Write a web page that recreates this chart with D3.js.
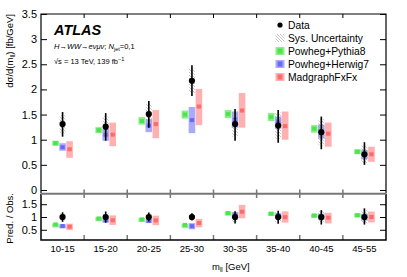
<!DOCTYPE html>
<html>
<head>
<meta charset="utf-8">
<script src="https://cdn.jsdelivr.net/npm/d3@7"></script>
<style>
  body { margin: 0; background: #fff; }
  svg { display: block; font-family: "Liberation Sans", Arial, sans-serif; }
</style>
</head>
<body>
<svg id="chart" width="407" height="277"></svg>
<script>
const bins = ['10-15', '15-20', '20-25', '25-30', '30-35', '35-40', '40-45', '45-55']

// measured cross section and uncertainties
const dataVal = [1.31, 1.26, 1.51, 2.17, 1.31, 1.28, 1.15, 0.71]
const dataErrUp = [0.24, 0.27, 0.26, 0.31, 0.30, 0.31, 0.31, 0.24]
const dataErrDn = [0.25, 0.28, 0.27, 0.30, 0.33, 0.34, 0.34, 0.21]
const dataSys = [0.18, 0.20, 0.20, 0.24, 0.25, 0.26, 0.26, 0.18]

// predictions: central value, band low, band high
const pythiaVal = [0.93, 1.19, 1.37, 1.50, 1.51, 1.45, 1.22, 0.76]
const pythiaLo = [0.88, 1.13, 1.30, 1.42, 1.43, 1.37, 1.14, 0.71]
const pythiaHi = [0.98, 1.25, 1.45, 1.58, 1.59, 1.53, 1.29, 0.81]

const herwigVal = [0.85, 1.10, 1.28, 1.39, 1.40, 1.36, 1.14, 0.71]
const herwigLo = [0.78, 0.98, 1.15, 1.13, 1.24, 1.22, 1.02, 0.61]
const herwigHi = [0.93, 1.22, 1.41, 1.65, 1.56, 1.46, 1.30, 0.80]

const madVal = [0.81, 1.10, 1.31, 1.66, 1.58, 1.27, 1.12, 0.71]
const madLo = [0.64, 0.87, 1.03, 1.29, 1.24, 1.00, 0.86, 0.56]
const madHi = [0.97, 1.34, 1.59, 2.01, 1.93, 1.56, 1.34, 0.86]

const mainTicks = [0, 0.5, 1, 1.5, 2, 2.5, 3, 3.5]
const ratioTicks = [0.5, 1, 1.5]

const models = [
  { name: 'Powheg+Pythia8', val: pythiaVal, lo: pythiaLo, hi: pythiaHi, offset: -7, light: '#86f086', dark: '#4fe24f' },
  { name: 'Powheg+Herwig7', val: herwigVal, lo: herwigLo, hi: herwigHi, offset: 0, light: '#aaaaf8', dark: '#6868fa' },
  { name: 'MadgraphFxFx', val: madVal, lo: madLo, hi: madHi, offset: 7, light: '#ffb0b0', dark: '#ff6a6a' },
]

const svg = d3.select('#chart')
const left = 41, right = 386
const mainTop = 14, mainBot = 193.5, ratioTop = 194, ratioBot = 240

const x = d3.scaleBand().domain(bins).range([left, right]).padding(0)
const y = d3.scaleLinear().domain([-0.07, 3.5]).range([mainBot, mainTop])
const yr = d3.scaleLinear().domain([0.1, 1.9]).range([ratioBot, ratioTop])
const cx = b => x(b) + x.bandwidth() / 2

// hatch pattern for sys. uncertainty
const defs = svg.append('defs')
defs.append('pattern')
  .attr('id', 'hatch')
  .attr('patternUnits', 'userSpaceOnUse')
  .attr('width', 3).attr('height', 3)
  .append('path')
  .attr('d', 'M-1,-1 L4,4 M-1,2 L1,4 M2,-1 L4,1')
  .attr('stroke', '#9a9a9a')
  .attr('stroke-width', 0.6)

// y axes with inward ticks
function drawYAxis(scale, ticks, minorStep, showLabels) {
  const dom = scale.domain()
  const minor = d3.range(Math.ceil(dom[0] / minorStep) * minorStep, dom[1] + 1e-9, minorStep)
  const g = svg.append('g').attr('transform', `translate(${left},0)`)
  g.call(d3.axisLeft(scale).tickValues(minor).tickSizeInner(-3).tickSizeOuter(0).tickFormat(''))
  g.call(d3.axisLeft(scale).tickValues(ticks).tickSizeInner(-6).tickSizeOuter(0).tickPadding(4)
    .tickFormat(showLabels ? d => d3.format('')(d) : ''))
  g.selectAll('text').attr('font-size', 11).attr('fill', '#000')
  g.selectAll('line').attr('stroke', '#000')
  g.select('.domain').remove()

  const gr = svg.append('g').attr('transform', `translate(${right},0)`)
  gr.call(d3.axisRight(scale).tickValues(minor).tickSizeInner(-3).tickSizeOuter(0).tickFormat(''))
  gr.call(d3.axisRight(scale).tickValues(ticks).tickSizeInner(-6).tickSizeOuter(0).tickFormat(''))
  gr.selectAll('line').attr('stroke', '#000')
  gr.select('.domain').remove()
}
drawYAxis(y, mainTicks, 0.1, true)
drawYAxis(yr, ratioTicks, 0.1, true)

// bin edge ticks
const edges = bins.slice(1).map(b => x(b))
edges.forEach(ex => {
  svg.append('line').attr('x1', ex).attr('x2', ex).attr('y1', mainTop).attr('y2', mainTop + 4)
    .attr('stroke', '#000').attr('stroke-width', 1)
  svg.append('line').attr('x1', ex).attr('x2', ex).attr('y1', mainBot - 4).attr('y2', ratioTop + 4)
    .attr('stroke', '#777').attr('stroke-width', 1.5)
  svg.append('line').attr('x1', ex).attr('x2', ex).attr('y1', ratioBot - 5).attr('y2', ratioBot)
    .attr('stroke', '#777').attr('stroke-width', 1.5)
})

// frames
svg.append('path')
  .attr('d', `M${left},${mainBot} V${mainTop} H${right} V${mainBot}`)
  .attr('fill', 'none').attr('stroke', '#000').attr('stroke-width', 1.2)
svg.append('path')
  .attr('d', `M${left},${ratioTop} V${ratioBot} H${right} V${ratioTop}`)
  .attr('fill', 'none').attr('stroke', '#000').attr('stroke-width', 1.5)
svg.append('line')
  .attr('x1', left).attr('x2', right).attr('y1', (mainBot + ratioTop) / 2).attr('y2', (mainBot + ratioTop) / 2)
  .attr('stroke', '#777').attr('stroke-width', 2.2)

// prediction boxes
function drawModels(scale, norm) {
  models.forEach(m => {
    bins.forEach((b, i) => {
      const n = norm ? dataVal[i] : 1
      const xc = cx(b) + m.offset
      const yHi = scale(m.hi[i] / n), yLo = scale(m.lo[i] / n), yc = scale(m.val[i] / n)
      svg.append('rect')
        .attr('x', xc - 3.3).attr('width', 6.6)
        .attr('y', yHi).attr('height', Math.max(yLo - yHi, 4))
        .attr('fill', m.light)
      svg.append('rect')
        .attr('x', xc - 2.2).attr('width', 4.4)
        .attr('y', yc - 2).attr('height', 4)
        .attr('fill', m.dark)
    })
  })
}

function drawData(scale, norm) {
  bins.forEach((b, i) => {
    const n = norm ? dataVal[i] : 1
    const xc = cx(b)
    const v = dataVal[i] / n
    svg.append('rect')
      .attr('x', xc - 3).attr('width', 6)
      .attr('y', scale(v + dataSys[i] / n))
      .attr('height', scale(v - dataSys[i] / n) - scale(v + dataSys[i] / n))
      .attr('fill', 'url(#hatch)')
    svg.append('line')
      .attr('x1', xc).attr('x2', xc)
      .attr('y1', scale(v + dataErrUp[i] / n)).attr('y2', scale(v - dataErrDn[i] / n))
      .attr('stroke', '#000').attr('stroke-width', 1.6)
    svg.append('circle').attr('cx', xc).attr('cy', scale(v)).attr('r', 3.1).attr('fill', '#000')
  })
}

drawModels(y, false)
drawData(y, false)
drawModels(yr, true)
drawData(yr, true)

// x tick labels
svg.append('g').selectAll('text').data(bins).join('text')
  .attr('x', d => cx(d)).attr('y', 251.5)
  .attr('text-anchor', 'middle').attr('font-size', 9.5)
  .text(d => d)

// axis titles
const xt = svg.append('text').attr('x', 212).attr('y', 270).attr('font-size', 9.5)
xt.append('tspan').text('m')
xt.append('tspan').attr('font-size', 6.5).attr('dy', 2).text('ll')
xt.append('tspan').attr('dy', -2).text(' [GeV]')

const yt = svg.append('text')
  .attr('transform', `translate(13,${mainTop}) rotate(-90)`)
  .attr('text-anchor', 'end').attr('font-size', 9.5)
yt.append('tspan').text('dσ/d(m')
yt.append('tspan').attr('font-size', 6.5).attr('dy', 2).text('ll')
yt.append('tspan').attr('dy', -2).text(') [fb/GeV]')

svg.append('text')
  .attr('transform', `translate(13,${ratioTop - 1}) rotate(-90)`)
  .attr('text-anchor', 'end').attr('font-size', 9.5)
  .text('Pred. / Obs.')

// ATLAS label
svg.append('text').attr('x', 54).attr('y', 35)
  .attr('font-size', 14.5).attr('font-weight', 'bold').attr('font-style', 'italic')
  .text('ATLAS')

const l1 = svg.append('text').attr('x', 54).attr('y', 49).attr('font-size', 7.5)
l1.append('tspan').attr('font-style', 'italic').text('H→WW→eνμν')
l1.append('tspan').text('; ')
l1.append('tspan').attr('font-style', 'italic').text('N')
l1.append('tspan').attr('font-size', 5.5).attr('dy', 1.5).text('jet')
l1.append('tspan').attr('dy', -1.5).text('=0,1')

const l2 = svg.append('text').attr('x', 54).attr('y', 64).attr('font-size', 7.5)
l2.append('tspan').text('√s = 13 TeV, 139 fb')
l2.append('tspan').attr('font-size', 5.5).attr('dy', -3).text('−1')

// legend
const legY = [25, 38, 51, 64, 77]
const legX = 280
const lg = svg.append('g')
lg.append('circle').attr('cx', legX).attr('cy', legY[0]).attr('r', 2.6).attr('fill', '#000')
lg.append('rect').attr('x', legX - 4.5).attr('y', legY[1] - 4).attr('width', 9).attr('height', 8)
  .attr('fill', 'url(#hatch)')
models.forEach((m, i) => {
  lg.append('rect').attr('x', legX - 4.5).attr('y', legY[i + 2] - 4).attr('width', 9).attr('height', 8)
    .attr('fill', m.light)
  lg.append('rect').attr('x', legX - 2.5).attr('y', legY[i + 2] - 2.5).attr('width', 5).attr('height', 5)
    .attr('fill', m.dark)
})
const legText = ['Data', 'Sys. Uncertainty'].concat(models.map(m => m.name))
lg.selectAll('text.leg').data(legText).join('text')
  .attr('class', 'leg')
  .attr('x', 288).attr('y', (d, i) => legY[i] + 3.6)
  .attr('font-size', 10.3)
  .text(d => d)
</script>
</body>
</html>
